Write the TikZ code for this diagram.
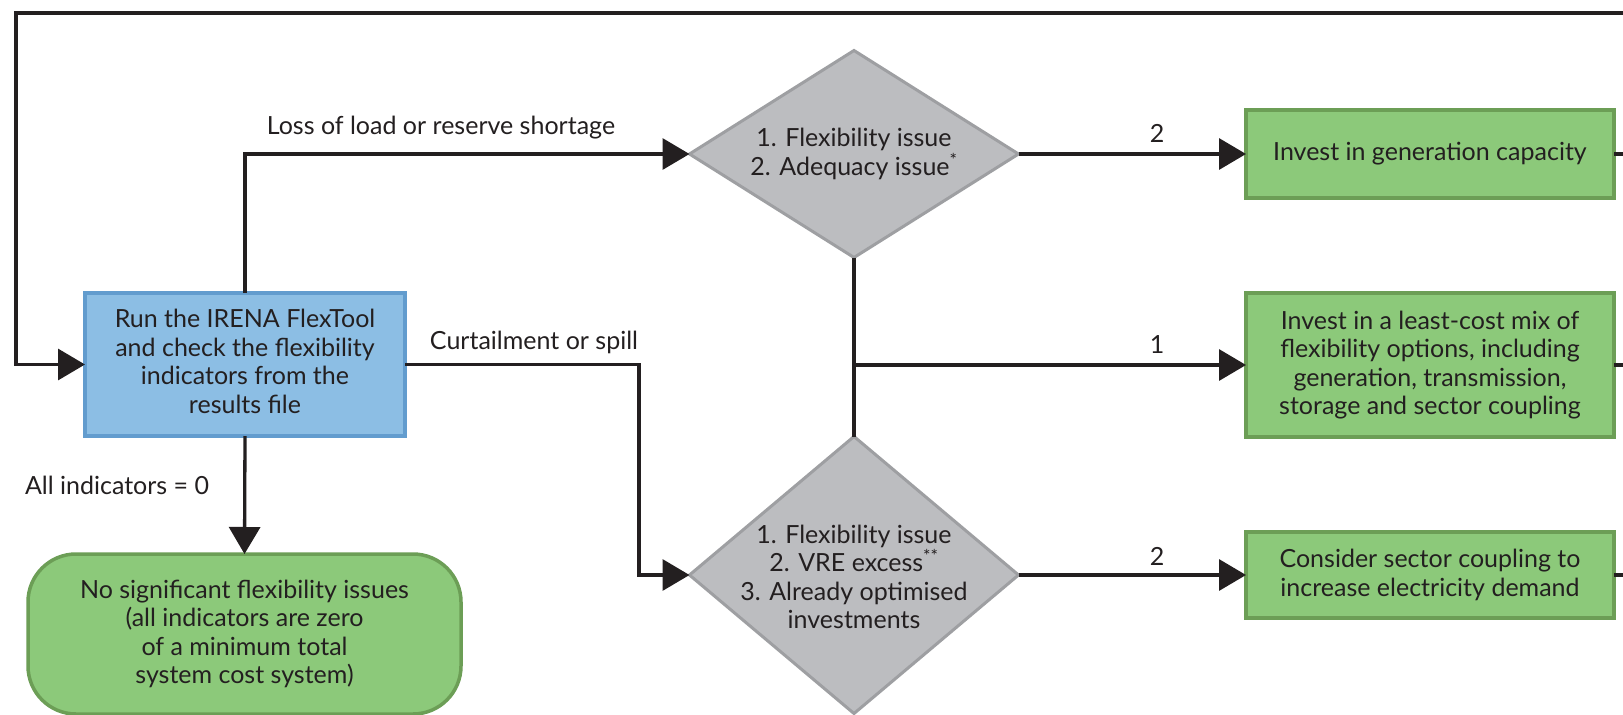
\documentclass[tikz,border=0pt]{standalone}
\usepackage{fontspec}
\setmainfont{Lato}
\usetikzlibrary{shapes.geometric,arrows.meta,calc}
\definecolor{bluef}{RGB}{140,190,228}
\definecolor{blued}{RGB}{98,156,206}
\definecolor{greenf}{RGB}{140,201,122}
\definecolor{greend}{RGB}{108,158,86}
\definecolor{greyf}{RGB}{188,189,192}
\definecolor{greyd}{RGB}{158,159,162}
\definecolor{ink}{RGB}{35,31,32}
\tikzset{
  base/.style={font=\fontsize{25}{28.5}\selectfont, text=ink, align=center, inner sep=0pt, outer sep=0pt},
  bluebox/.style={base, rectangle, draw=blued, fill=bluef, line width=3.5pt},
  greenbox/.style={base, rectangle, draw=greend, fill=greenf, line width=3.5pt, minimum width=368pt},
  endbox/.style={base, rectangle, rounded corners=48pt, draw=greend, fill=greenf, line width=3.5pt},
  decision/.style={base, diamond, draw=greyd, fill=greyf, line width=3pt},
  conn/.style={line width=3.3pt, draw=ink},
  arr/.style={conn, -{Triangle[length=27pt,width=31pt]}},
  lbl/.style={base}
}
\begin{document}
\begin{tikzpicture}[x=1pt,y=-1pt]
\useasboundingbox[fill=white] (0,0) rectangle (1623,715);
% boxes
\node[bluebox, minimum width=320pt, minimum height=143pt] (run) at (245,364.5) {};
\node[base] (runt) at ([yshift=3pt]run.center)
  {Run the IRENA FlexTool\\and check the flexibility\\indicators from the\\results file};
\node[decision, minimum width=329pt, minimum height=207pt] (d1) at (854,154) {};
\node[base] (d1t) at (d1.center) {1. Flexibility issue\\2. Adequacy issue\textsuperscript{*}};
\node[decision, minimum width=329pt, minimum height=277pt] (d2) at (854,575) {};
\node[base] (d2t) at ([yshift=-2pt]d2.center) {1. Flexibility issue\\2. VRE excess\textsuperscript{**}\\3. Already optimised\\investments};
\node[greenbox, minimum height=88pt] (g1) at (1430,154) {Invest in generation capacity};
\node[greenbox, minimum height=144pt] (g2) at (1430,365) {Invest in a least-cost mix of\\flexibility options, including\\generation, transmission,\\storage and sector coupling};
\node[greenbox, minimum height=86pt] (g3) at (1430,575) {Consider sector coupling to\\increase electricity demand};
\node[endbox, minimum width=433pt, minimum height=160pt] (ok) at (244.5,634)
  {No significant flexibility issues\\(all indicators are zero\\of a minimum total\\system cost system)};
% coordinates
\coordinate (tr) at (1623,13);
\coordinate (tl) at (16,13);
\coordinate (edge) at (1623,0);
\coordinate (cx) at (639,364.5);
% connectors
\draw[arr] (tr) -- (tl) |- (run.west);
\draw[arr] (run.north) |- (d1.west);
\draw[arr] (d1.east) -- (g1.west);
\draw[conn] (d1.south) -- (d2.north);
\draw[arr] (d1.south |- g2.west) -- (g2.west);
\draw[arr] (run.east) -- (cx) |- (d2.west);
\draw[arr] (d2.east) -- (g3.west);
\draw[arr] (run.south) -- (ok.north);
\draw[conn] (g1.east) -- (g1.east -| edge);
\draw[conn] (g2.east) -- (g2.east -| edge);
\draw[conn] (g3.east) -- (g3.east -| edge);
% labels
\node[lbl] (l1) at (441,128) {Loss of load or reserve shortage};
\node[lbl] (l2) at (534,342) {Curtailment or spill};
\node[lbl] (l3) at (117,485) {All indicators = 0};
\node[lbl] (l4) at (1157,133) {2};
\node[lbl] (l5) at (1157,345) {1};
\node[lbl] (l6) at (1157,556) {2};
\end{tikzpicture}
\end{document}
